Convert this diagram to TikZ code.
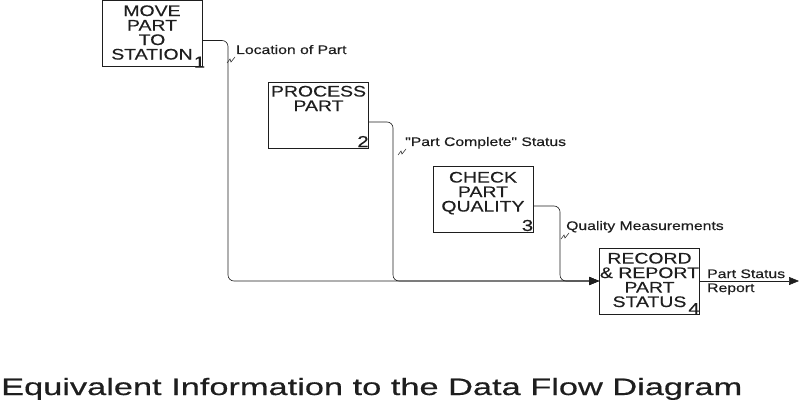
\documentclass[tikz,border=0pt]{standalone}
\usepackage{fontspec}
\setmainfont{Liberation Sans}
\newfontfamily\diagfont[FakeStretch=1.27,FakeBold=0.4]{Liberation Sans}
\newfontfamily\titlefont[FakeStretch=1.45,FakeBold=0.5]{Liberation Sans}
\usepackage{tikz}
\usetikzlibrary{arrows.meta,calc}
\definecolor{ink}{HTML}{1E1E1E}

\begin{document}
\begin{tikzpicture}[x=1pt, y=-1pt,
  actbox/.style={draw=ink, line width=0.7pt, minimum width=100pt, minimum height=66pt, inner sep=0pt},
  acttext/.style={anchor=north, align=center, inner sep=0pt, text=ink,
    font=\diagfont\fontsize{15.3}{14.5}\selectfont},
  actnum/.style={anchor=south east, inner sep=0pt, text=ink, font=\diagfont\fontsize{16}{16}\selectfont},
  flow/.style={draw=ink, line width=0.6pt, rounded corners=6pt, -{Triangle[length=10pt,width=8pt]}},
  lbl/.style={inner sep=0pt, text=ink, font=\diagfont\fontsize{12.4}{14}\selectfont}]
\useasboundingbox (0,0) rectangle (802,403);
% squiggle tying a label to its arrow
\def\squig#1#2{\draw[ink, line width=0.5pt] (#1,#2) -- ++(3,-4) -- ++(1,3) -- ++(4,-5);}
% activity boxes
\node[actbox] (move)    at (152,33.5) {};
\node[actbox] (process) at (318.5,115) {};
\node[actbox] (check)   at (483,199) {};
\node[actbox] (record)  at (649.5,281) {};
\node[acttext] (move-t)    at ([yshift=-5pt]move.north)    {MOVE\\PART\\TO\\STATION};
\node[acttext] (process-t) at ([yshift=-4pt]process.north) {PROCESS\\PART};
\node[acttext] (check-t)   at ([yshift=-6pt]check.north)   {CHECK\\PART\\QUALITY};
\node[acttext] (record-t)  at ([yshift=-5pt]record.north)  {RECORD\\\&~REPORT\\PART\\STATUS};
\node[actnum] (move-n)    at ([xshift=3pt,yshift=-1pt]move.south east)   {1};
\node[actnum] (process-n) at ([xshift=0pt,yshift=1pt]process.south east) {2};
\node[actnum] (check-n)   at ([xshift=0pt,yshift=1pt]check.south east)   {3};
\node[actnum] (record-n)  at ([xshift=0pt,yshift=0pt]record.south east)  {4};
% drop points of the arrows
\coordinate (drop1) at (228,150);
\coordinate (drop2) at (393,200);
\coordinate (drop3) at (560,250);
\coordinate (out)   at (799,281);
% arrows
\draw[flow] ([yshift=-7pt]move.east)    -| (drop1) |- (record.west);
\draw[flow] ([yshift=-7pt]process.east) -| (drop2) |- (record.west);
\draw[flow] ([yshift=-7pt]check.east)   -| (drop3) |- (record.west);
\draw[flow] (record.east) -- (out);
% arrow labels
\node[lbl, anchor=base west] (loc)  at (236,54)  {Location of Part};
\node[lbl, anchor=base west] (done) at (405,146) {"Part Complete" Status};
\node[lbl, anchor=base west] (meas) at (566,230) {Quality Measurements};
\node[lbl, anchor=west, align=left] (rep) at (707,282) {Part Status\\Report};
\squig{227}{63}
\squig{398}{155}
\squig{561}{239}
% caption
\node[anchor=base west, inner sep=0pt, text=ink, font=\titlefont\fontsize{23.7}{28}\selectfont]
  (title) at (1,395) {Equivalent Information to the Data Flow Diagram};
\end{tikzpicture}
\end{document}
